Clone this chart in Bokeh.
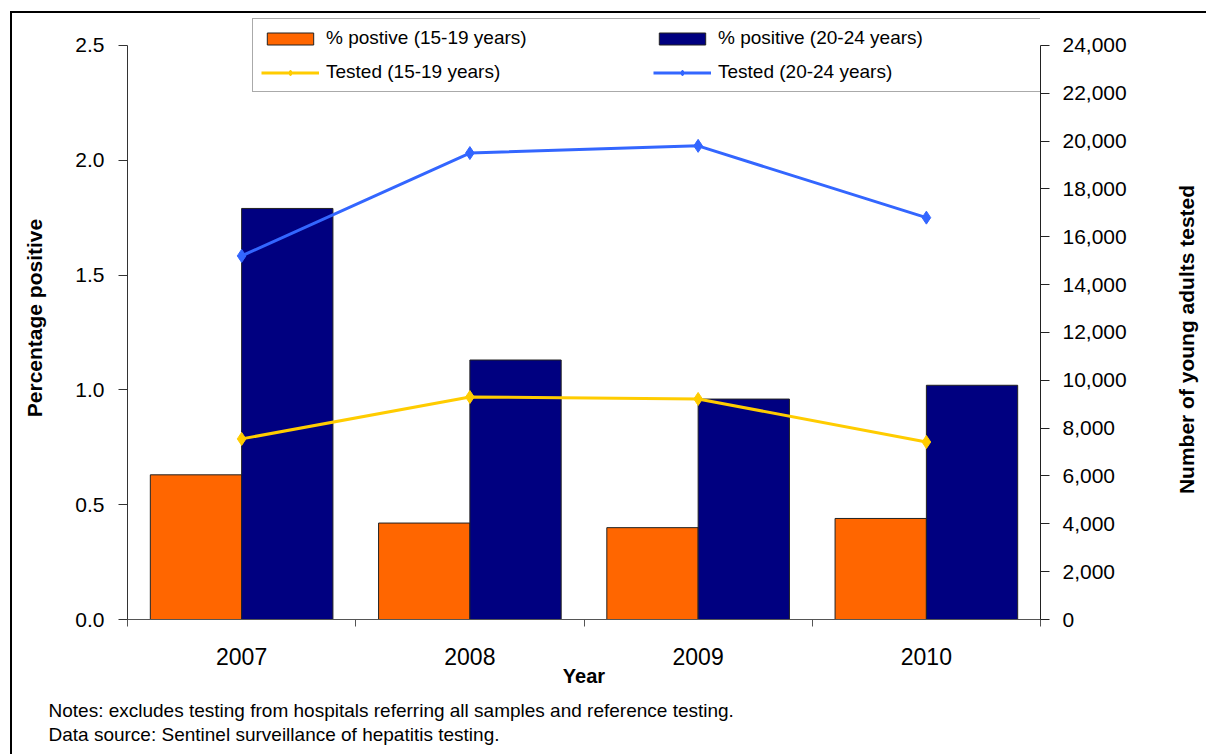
import math
from bokeh.plotting import figure
from bokeh.models import (Range1d, LinearAxis, FixedTicker, NumeralTickFormatter,
                          Title, Label, ColumnDataSource)
from bokeh.transform import dodge
from bokeh.embed import file_html
from bokeh.resources import INLINE

# ---- data ----
years = ["2007", "2008", "2009", "2010"]
pos_15_19 = [0.63, 0.42, 0.40, 0.44]
pos_20_24 = [1.79, 1.13, 0.96, 1.02]
tested_15_19 = [7550, 9300, 9220, 7420]
tested_20_24 = [15200, 19500, 19800, 16800]
pct_ticks = [0.0, 0.5, 1.0, 1.5, 2.0, 2.5]
count_ticks = [0, 2000, 4000, 6000, 8000, 10000, 12000, 14000, 16000,
               18000, 20000, 22000, 24000]
right_title = "Number of young adults tested"
note_lines = [
    "Notes: excludes testing from hospitals referring all samples and reference testing.",
    "Data source: Sentinel surveillance of hepatitis testing.",
]

FONT = "Liberation Sans"
PCT_MAX, CNT_MAX = 2.5, 24000
AXIS_H = 576          # pixel height of the drawn axes (0 .. max)
TOP_BORDER = 16       # frame extends above the axes so the legend is not clipped
AXIS_TOP = 45
EXTRA = (AXIS_TOP - TOP_BORDER) / AXIS_H

idx = list(range(len(years)))
boundaries = [i - 0.5 for i in range(len(years) + 1)]

src = ColumnDataSource(dict(x=idx, year=years, p1=pos_15_19, p2=pos_20_24,
                            t1=tested_15_19, t2=tested_20_24))

p = figure(width=1206, height=754,
           x_range=Range1d(-0.5, len(years) - 0.5),
           y_range=Range1d(0, PCT_MAX * (1 + EXTRA)),
           output_backend="svg", toolbar_location=None,
           min_border_left=127, min_border_right=166,
           min_border_top=TOP_BORDER, min_border_bottom=133)
p.extra_y_ranges = {"n": Range1d(0, CNT_MAX * (1 + EXTRA))}
p.border_fill_color = None
p.outline_line_color = None
p.xgrid.visible = False
p.ygrid.visible = False
p.styles = {"box-shadow": "inset 10px 11px 0 0 #ffffff, inset 12px 13px 0 0 #000000"}

p.vbar(x=dodge("x", -0.2), top="p1", width=0.4, source=src,
       fill_color="#FF6600", line_color="#222222", line_width=1,
       legend_label="% postive (15-19 years)")
p.vbar(x=dodge("x", 0.2), top="p2", width=0.4, source=src,
       fill_color="#000080", line_color="#222222", line_width=1,
       legend_label="% positive (20-24 years)")
p.line(x="x", y="t1", source=src, y_range_name="n", line_color="#FFCC00",
       line_width=3, legend_label="Tested (15-19 years)")
p.scatter(x="x", y="t1", source=src, y_range_name="n", marker="diamond",
          size=13, fill_color="#FFCC00", line_color="#FFCC00",
          legend_label="Tested (15-19 years)")
p.line(x="x", y="t2", source=src, y_range_name="n", line_color="#3366FF",
       line_width=3, legend_label="Tested (20-24 years)")
p.scatter(x="x", y="t2", source=src, y_range_name="n", marker="diamond",
          size=13, fill_color="#3366FF", line_color="#3366FF",
          legend_label="Tested (20-24 years)")

# ---- x axis ----
xa = p.xaxis[0]
xa.ticker = FixedTicker(ticks=idx, minor_ticks=boundaries)
xa.major_label_overrides = {i: y for i, y in zip(idx, years)}
xa.major_tick_line_color = None
xa.major_tick_out = 0
xa.major_tick_in = 0
xa.minor_tick_out = 7
xa.minor_tick_in = 0
xa.minor_tick_line_color = "#555555"
xa.axis_line_color = "#555555"
xa.major_label_text_font = FONT
xa.major_label_text_font_size = "23px"
xa.major_label_text_color = "#000000"
xa.major_label_standoff = 21
xa.axis_label = "Year"
xa.axis_label_text_font = FONT
xa.axis_label_text_font_size = "20px"
xa.axis_label_text_font_style = "bold"
xa.axis_label_text_color = "#000000"
xa.axis_label_standoff = -3

# ---- left axis ----
ya = p.yaxis[0]
ya.ticker = FixedTicker(ticks=pct_ticks)
ya.formatter = NumeralTickFormatter(format="0.0")
ya.bounds = (0, PCT_MAX)
ya.minor_tick_line_color = None
ya.major_tick_out = 9
ya.major_tick_in = 0
ya.major_tick_line_color = "#333333"
ya.axis_line_color = "#333333"
ya.major_label_text_font = FONT
ya.major_label_text_font_size = "21px"
ya.major_label_text_color = "#000000"
ya.major_label_standoff = 14
ya.axis_label = "Percentage positive"
ya.axis_label_text_font = FONT
ya.axis_label_text_font_size = "21px"
ya.axis_label_text_font_style = "bold"
ya.axis_label_text_color = "#000000"
ya.axis_label_standoff = 26

# ---- right axis ----
ra = LinearAxis(y_range_name="n", ticker=FixedTicker(ticks=count_ticks),
                formatter=NumeralTickFormatter(format="0,0"),
                bounds=(0, CNT_MAX))
ra.minor_tick_line_color = None
ra.major_tick_out = 9
ra.major_tick_in = 0
ra.major_tick_line_color = "#222222"
ra.axis_line_color = "#222222"
ra.major_label_text_font = FONT
ra.major_label_text_font_size = "21px"
ra.major_label_text_color = "#000000"
ra.major_label_standoff = 13
p.add_layout(ra, "right")

# right-hand title, reading bottom-to-top, in the right side panel
rt = Label(text=right_title, x=57, y=280, x_units="screen", y_units="screen",
           angle=90, angle_units="deg", text_align="center",
           text_baseline="middle", text_font=FONT, text_font_size="21px",
           text_font_style="bold", text_color="#000000")
p.add_layout(rt, "right")

# ---- notes ----
notes = Title(text="\n".join(note_lines), align="left", offset=-79,
              text_font=FONT, text_font_size="19px", text_font_style="normal",
              text_color="#000000", text_line_height=1.15, standoff=18)
p.add_layout(notes, "below")

# ---- legend ----
leg = p.legend[0]
leg.orientation = "horizontal"
leg.ncols = 2
leg.location = (125, 527)
leg.margin = 0
leg.padding = 8
leg.spacing = 12
leg.glyph_width = 58
leg.glyph_height = 15
leg.label_height = 20
leg.label_width = 315
leg.label_standoff = 7
leg.label_text_font = FONT
leg.label_text_font_size = "19px"
leg.label_text_color = "#000000"
leg.border_line_color = "#555555"
leg.border_line_width = 1
leg.background_fill_color = "#ffffff"
leg.background_fill_alpha = 1.0

open("out.html", "w").write(file_html(p, INLINE))
